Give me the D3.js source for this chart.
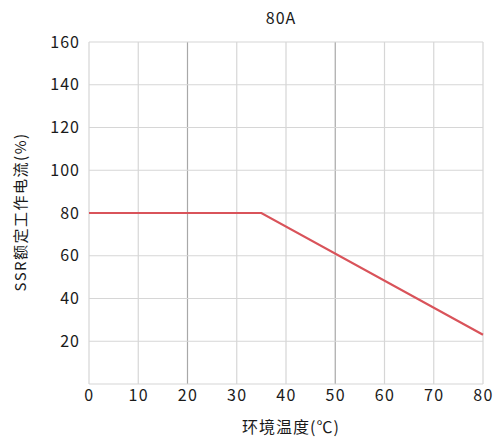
<!DOCTYPE html>
<html>
<head>
<meta charset="utf-8">
<script src="https://cdn.jsdelivr.net/npm/d3@7"></script>
<style>
body{margin:0;background:#fff;}
text{font-family:"Noto Sans CJK SC","Noto Sans",sans-serif;fill:#1a1a1a;}
</style>
</head>
<body>
<svg></svg>
<script>
let temps = [0, 35, 80];
let currents = [80, 80, 23];
let xTicks = [0, 10, 20, 30, 40, 50, 60, 70, 80];
let yTicks = [20, 40, 60, 80, 100, 120, 140, 160];
let darkX = [20, 50];

let width = 497;
let height = 439;
let padLeft = 89, padRight = 483, padTop = 42, padBottom = 384;
let svg = d3.select("svg").attr("width", width).attr("height", height);

let xScale = d3.scaleLinear().domain([0, 80]).range([padLeft, padRight]);
let yScale = d3.scaleLinear().domain([0, 160]).range([padBottom, padTop]);

// grid
svg.append("g").selectAll("line").data(xTicks).join("line")
    .attr("x1", d => xScale(d)).attr("x2", d => xScale(d))
    .attr("y1", padTop).attr("y2", padBottom)
    .attr("stroke", d => darkX.includes(d) ? "#a8a8a8" : "#d6d6d6")
    .attr("stroke-width", 1.2);
svg.append("g").selectAll("line").data([0].concat(yTicks)).join("line")
    .attr("x1", padLeft).attr("x2", padRight)
    .attr("y1", d => yScale(d)).attr("y2", d => yScale(d))
    .attr("stroke", "#d6d6d6")
    .attr("stroke-width", 1.2);

let xAxis = d3.axisBottom(xScale).tickValues(xTicks).tickSize(0).tickPadding(6);
let yAxis = d3.axisLeft(yScale).tickValues(yTicks).tickSize(0).tickPadding(9);

svg.append("g").attr("transform", "translate(0," + padBottom + ")").call(xAxis)
    .call(g => g.select(".domain").remove())
    .selectAll("text").style("font-size", "16px").style("letter-spacing", "1.5px").attr("fill", "#1a1a1a");
svg.append("g").attr("transform", "translate(" + padLeft + ",0)").call(yAxis)
    .call(g => g.select(".domain").remove())
    .selectAll("text").style("font-size", "16px").style("letter-spacing", "1px").attr("fill", "#1a1a1a");

let line = d3.line().x((d, i) => xScale(temps[i])).y(d => yScale(d));
svg.append("path").datum(currents)
    .attr("d", line)
    .attr("fill", "none")
    .attr("stroke", "#d9535a")
    .attr("stroke-width", 2.2);

svg.append("text").attr("x", 281).attr("y", 24).attr("text-anchor", "middle")
    .style("font-size", "16px").style("letter-spacing", "1px").text("80A");
svg.append("text").attr("x", 291).attr("y", 433).attr("text-anchor", "middle")
    .style("font-size", "16px").style("letter-spacing", "1px").text("环境温度(℃)");
svg.append("text").attr("transform", "translate(26,212) rotate(-90)").attr("text-anchor", "middle")
    .style("font-size", "15px").style("letter-spacing", "1.5px").text("SSR额定工作电流(%)");
</script>
</body>
</html>
